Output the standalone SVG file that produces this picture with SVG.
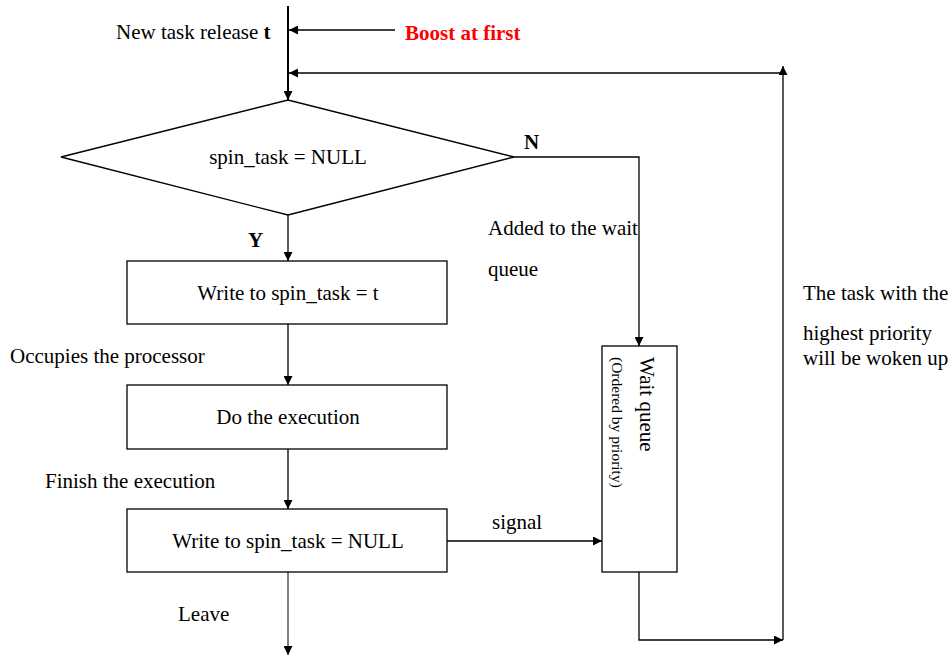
<svg xmlns="http://www.w3.org/2000/svg" width="952" height="655" viewBox="0 0 952 655">
  <style>
    text { font-family: "Liberation Serif", "Times New Roman", serif; font-size: 21px; fill: #000; }
    .b { font-weight: bold; }
    .red { fill: #ff0000; font-weight: bold; }
    .c { text-anchor: middle; }
    .shape { fill: #fff; stroke: #000; stroke-width: 1.3; }
    .ln { fill: none; stroke: #000; stroke-width: 1.3; }
    .thick { stroke-width: 2; }
    .thin { stroke-width: 1; }
  </style>
  <defs>
    <marker id="arr" viewBox="0 0 10 10" refX="10" refY="5" markerWidth="9" markerHeight="9" markerUnits="userSpaceOnUse" orient="auto">
      <path d="M0,0 L10,5 L0,10 z" fill="#000"/>
    </marker>
  </defs>

  <rect width="952" height="655" fill="#fff"/>

  <!-- connectors -->
  <g id="connectors">
    <line class="ln thick" x1="288" y1="6" x2="288" y2="100" marker-end="url(#arr)"/>
    <line class="ln" x1="395" y1="30" x2="289" y2="30" marker-end="url(#arr)"/>
    <line class="ln" x1="783" y1="73" x2="289" y2="73" marker-end="url(#arr)"/>
    <line class="ln" x1="783" y1="640" x2="783" y2="66" marker-end="url(#arr)"/>
    <polyline class="ln" points="514,157 639,157 639,346" marker-end="url(#arr)"/>
    <line class="ln" x1="288" y1="215" x2="288" y2="261" marker-end="url(#arr)"/>
    <line class="ln" x1="288" y1="324" x2="288" y2="385" marker-end="url(#arr)"/>
    <line class="ln" x1="288" y1="449" x2="288" y2="509" marker-end="url(#arr)"/>
    <line class="ln" x1="447" y1="541" x2="602" y2="541" marker-end="url(#arr)"/>
    <polyline class="ln" points="639,572 639,640 783,640" marker-end="url(#arr)"/>
    <line class="ln thin" x1="288" y1="572" x2="288" y2="655" marker-end="url(#arr)"/>
  </g>

  <!-- labels -->
  <g id="labels">
    <text x="116" y="39">New task release <tspan class="b">t</tspan></text>
    <text class="red" x="405" y="40">Boost at first</text>
    <text class="b" x="524" y="149">N</text>
    <text class="b" x="248" y="247">Y</text>
    <text x="488" y="235">Added to the wait</text>
    <text x="488" y="276">queue</text>
    <text x="10" y="363">Occupies the processor</text>
    <text x="45" y="488">Finish the execution</text>
    <text x="492" y="529">signal</text>
    <text x="178" y="621">Leave</text>
    <text x="803" y="300">The task with the</text>
    <text x="803" y="340">highest priority</text>
    <text x="803" y="365">will be woken up</text>
  </g>

  <!-- decision -->
  <g id="decision">
    <polygon class="shape" points="61,157 288,100 514,157 288,215"/>
    <text class="c" x="288" y="164">spin_task = NULL</text>
  </g>

  <g id="write-task">
    <rect class="shape" x="127" y="261" width="320" height="63"/>
    <text class="c" x="288" y="300">Write to spin_task = t</text>
  </g>

  <g id="execute">
    <rect class="shape" x="127" y="385" width="320" height="64"/>
    <text class="c" x="288" y="424">Do the execution</text>
  </g>

  <g id="write-null">
    <rect class="shape" x="127" y="509" width="320" height="63"/>
    <text class="c" x="288" y="548">Write to spin_task = NULL</text>
  </g>

  <g id="wait-queue">
    <rect class="shape" x="602" y="346" width="75" height="226"/>
    <text transform="translate(640,357) rotate(90)" style="font-size:21px">Wait queue</text>
    <text transform="translate(612,357) rotate(90)" style="font-size:15.5px">(Ordered by priority)</text>
  </g>
</svg>
